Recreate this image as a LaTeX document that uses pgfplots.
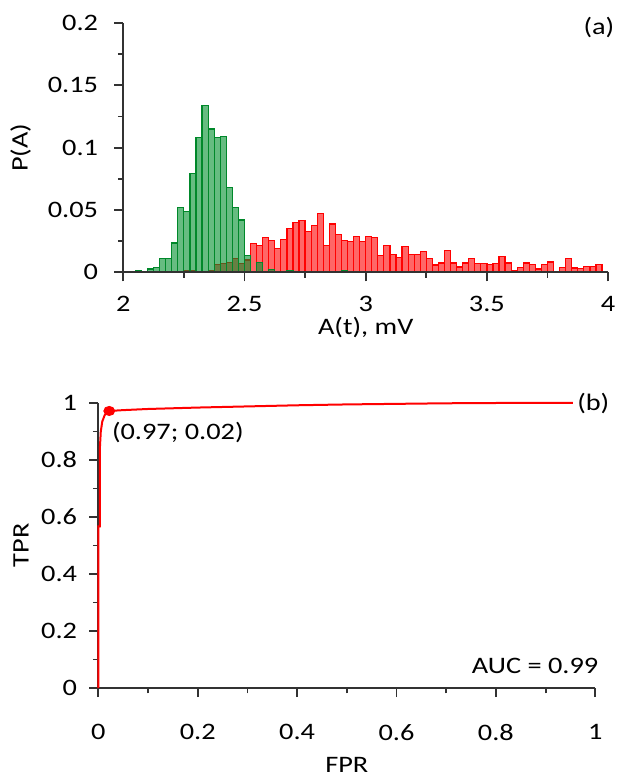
\documentclass[border=0pt]{standalone}
\usepackage{fontspec}
\setmainfont{Carlito}[FakeStretch=1.2]
\usepackage{pgfplots}
\pgfplotsset{compat=1.18}

\definecolor{hgreen}{RGB}{0,160,50}
\definecolor{hred}{RGB}{255,0,0}
\definecolor{axgray}{RGB}{50,50,50}

\pgfplotsset{
  panel/.style={
    scale only axis, anchor=south west,
    axis lines=left, axis line style={-, line width=0.9pt, axgray},
    tick align=outside, major tick length=4.5pt, minor tick length=2.7pt,
    every tick/.style={axgray, line width=0.9pt},
    /pgf/number format/assume math mode=true,
    scaled ticks=false, clip=false,
  }
}

\begin{document}
\fontsize{11.8}{14}\selectfont
\begin{tikzpicture}
\useasboundingbox (0,0) rectangle (308pt,388pt);

% (a) histogram
\begin{axis}[panel, axis on top, at={(61.65pt,251.85pt)}, width=242.4pt, height=124.6pt,
  xmin=2, xmax=4, ymin=0, ymax=0.2,
  xtick={2,2.5,3,3.5,4}, minor x tick num=1,
  ytick={0,0.05,0.1,0.15,0.2}, minor y tick num=1,
  yticklabel style={xshift=-4pt, /pgf/number format/.cd, fixed, precision=2},
  xticklabel style={yshift=-3.5pt},
  xlabel={A(t), mV}, ylabel={P(A)},
  every axis x label/.style={at={(axis description cs:0.5,0)}, anchor=center, yshift=-27.5pt},
  every axis y label/.style={at={(axis description cs:-0.212,0.5)}, anchor=center, rotate=90},
]
\addplot[ybar interval, draw=hred, fill=hred!60, line width=0.6pt] coordinates {
(2.25,0.001) (2.275,0.001) (2.3,0) (2.325,0) (2.35,0.0015) (2.375,0.0064)
(2.4,0.007) (2.425,0.008) (2.45,0.011) (2.475,0.007) (2.5,0.0099)
(2.525,0.0231) (2.55,0.0218) (2.575,0.0277) (2.6,0.0253) (2.625,0.0191)
(2.65,0.0266) (2.675,0.035) (2.7,0.040) (2.725,0.0414) (2.75,0.0325)
(2.775,0.0377) (2.8,0.0473) (2.825,0.0218) (2.85,0.0387) (2.875,0.0304)
(2.9,0.0258) (2.925,0.0245) (2.95,0.029) (2.975,0.0245) (3.0,0.029)
(3.025,0.0277) (3.05,0.0132) (3.075,0.0218) (3.1,0.0145) (3.125,0.0118)
(3.15,0.0204) (3.175,0.0145) (3.2,0.0145) (3.225,0.017) (3.25,0.0108)
(3.275,0.0058) (3.3,0.0075) (3.325,0.0172) (3.35,0.0075) (3.375,0.0043)
(3.4,0.0075) (3.425,0.0108) (3.45,0.007) (3.475,0.007) (3.5,0.006)
(3.525,0.007) (3.55,0.0124) (3.575,0.0075) (3.6,0.0016) (3.625,0.0038)
(3.65,0.0075) (3.675,0.0062) (3.7,0.0027) (3.725,0.006) (3.75,0.0083)
(3.775,0) (3.8,0.0038) (3.825,0.0108) (3.85,0.0035) (3.875,0.003)
(3.9,0.0048) (3.925,0.0048) (3.95,0.0062) (3.975,0)
};
\addplot[ybar interval, draw=hgreen!85!black, fill=hgreen!90!black, fill opacity=0.6, line width=0.6pt] coordinates {
(2.05,0.001) (2.075,0) (2.1,0.0027) (2.125,0.004) (2.15,0.011) (2.175,0.011)
(2.2,0.0235) (2.225,0.052) (2.25,0.0486) (2.275,0.079) (2.3,0.108)
(2.325,0.134) (2.35,0.115) (2.375,0.108) (2.4,0.109) (2.425,0.068)
(2.45,0.052) (2.475,0.042) (2.5,0.0136) (2.525,0) (2.55,0.008) (2.575,0)
(2.6,0.002) (2.625,0) (2.65,0) (2.675,0.0016) (2.7,0) (2.725,0) (2.75,0)
(2.775,0) (2.8,0) (2.825,0) (2.85,0) (2.875,0) (2.9,0.0016) (2.925,0)
};
\node at (axis cs:3.962,0.1965) {(a)};
\end{axis}

% (b) ROC curve
\begin{axis}[panel, at={(49.15pt,44pt)}, width=248.5pt, height=142.5pt,
  xmin=0, xmax=1, ymin=0, ymax=1,
  xtick={0,0.2,0.4,0.6,0.8,1}, minor x tick num=1,
  ytick={0,0.2,0.4,0.6,0.8,1}, minor y tick num=1,
  yticklabel style={xshift=-2pt},
  xticklabel style={yshift=-9.5pt},
  xlabel={FPR}, ylabel={TPR},
  every axis x label/.style={at={(axis description cs:0.5,0)}, anchor=center, yshift=-38.5pt},
  every axis y label/.style={at={(axis description cs:-0.1555,0.5)}, anchor=center, rotate=90},
]
\addplot[red, line width=1pt] coordinates {
(0,0) (0,0.567) (0.003,0.567) (0.003,0.835) (0.005,0.90) (0.008,0.935)
(0.013,0.958) (0.022,0.972) (0.05,0.975) (0.1,0.979) (0.2,0.984)
(0.3,0.988) (0.4,0.992) (0.5,0.995) (0.6,0.997) (0.7,0.999) (0.8,1.0)
(0.955,1.0)
};
\addplot[red, only marks, mark=*, mark size=2.3pt, mark options={xscale=1.2}] coordinates {(0.022,0.972)};
\node at (axis cs:0.16,0.895) {(0.97; 0.02)};
\node at (axis cs:0.879,0.077) {AUC = 0.99};
\node at (axis cs:0.996,0.997) {(b)};
\end{axis}
\end{tikzpicture}
\end{document}
